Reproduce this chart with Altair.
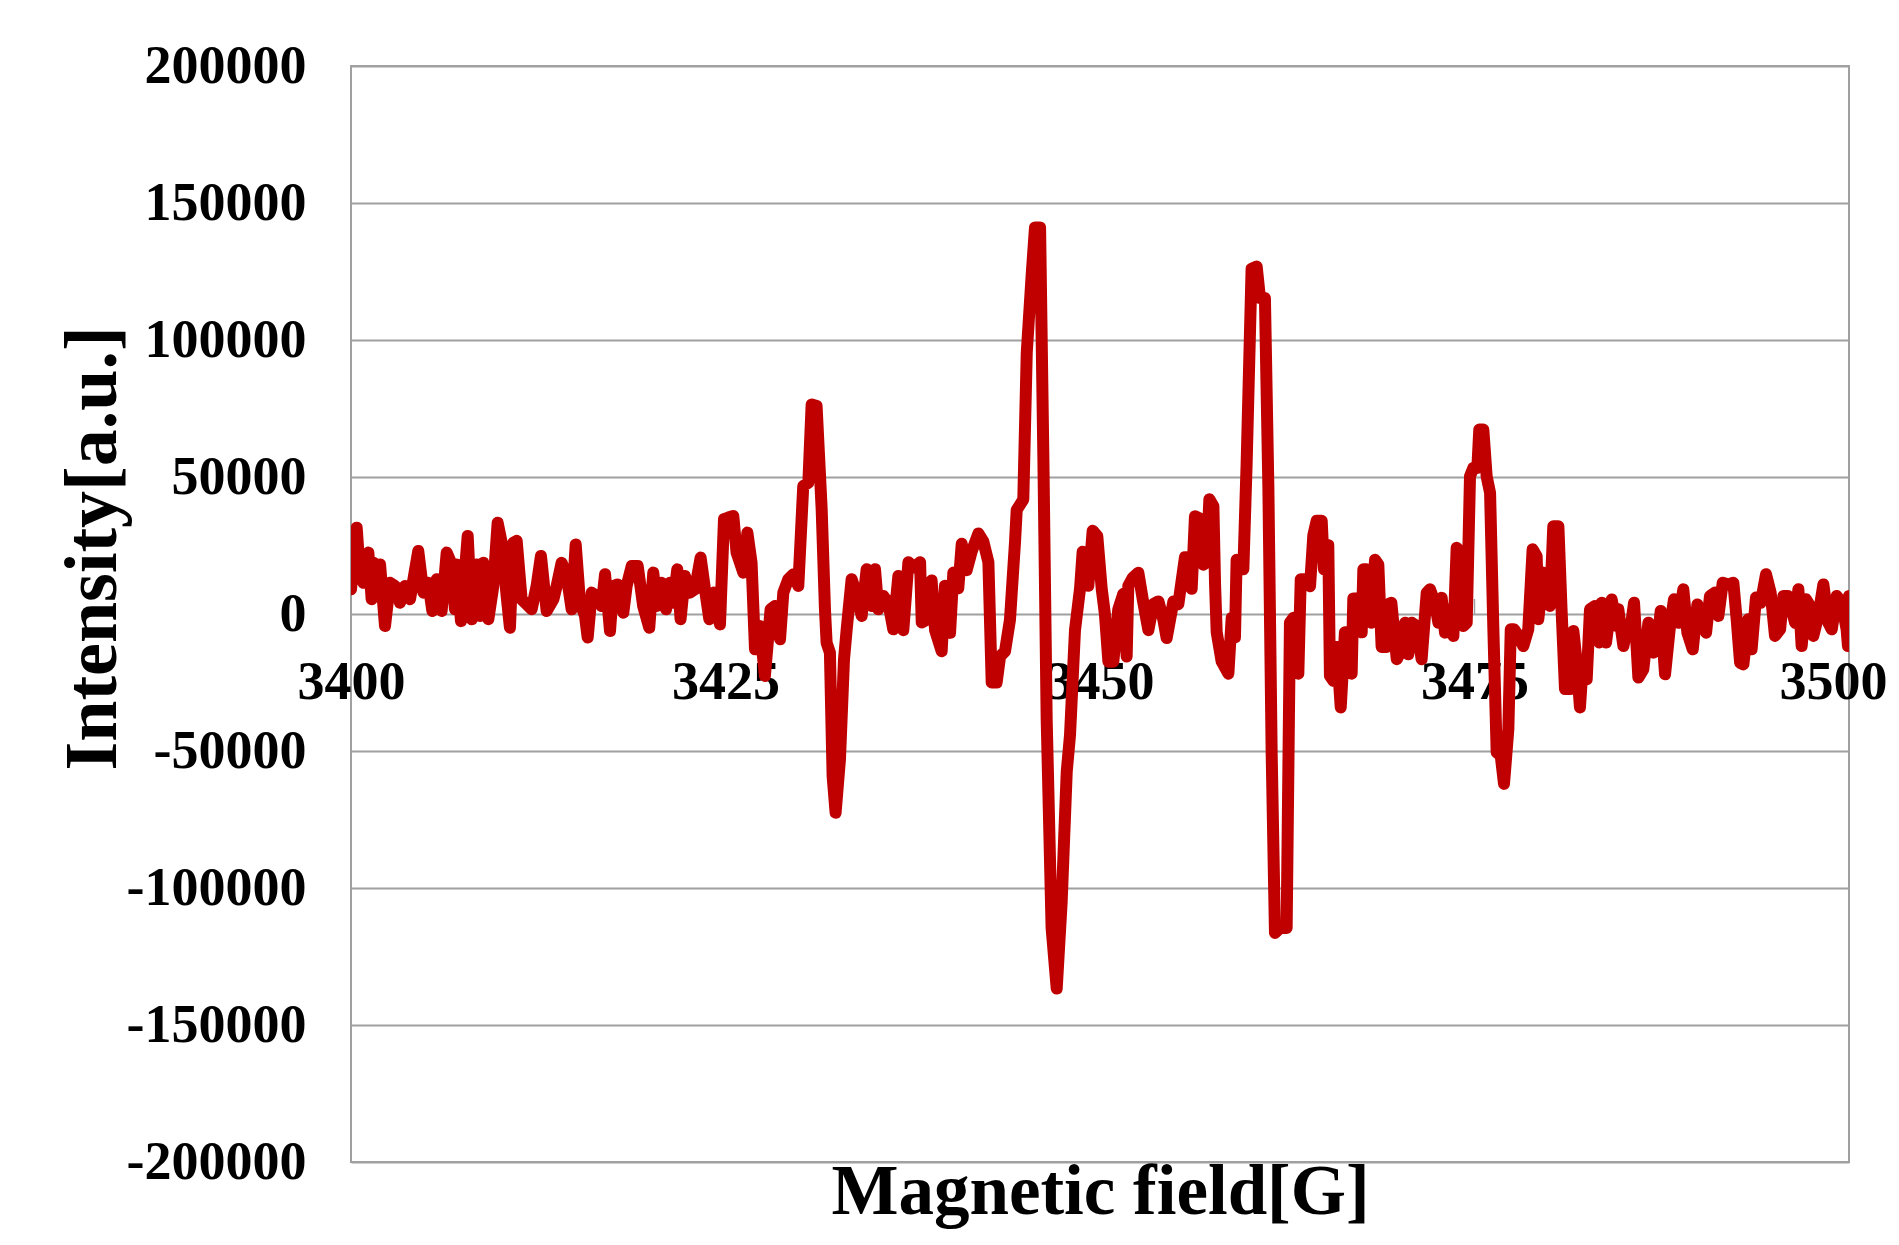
import altair as alt
import pandas as pd

# Magnetic field [G]
field = [
    3400.0, 3400.38, 3400.6, 3400.82, 3401.16, 3401.38, 3401.49, 3401.71, 3401.94, 3402.27,
    3402.6, 3402.94, 3403.27, 3403.6, 3403.94, 3404.49, 3404.83, 3405.16, 3405.43, 3405.72,
    3406.05, 3406.39, 3406.68, 3406.94, 3407.05, 3407.34, 3407.79, 3408.06, 3408.39, 3408.61,
    3408.83, 3409.17, 3409.5, 3409.79, 3410.06, 3410.39, 3410.61, 3410.84, 3411.06, 3411.39,
    3411.73, 3412.06, 3412.39, 3412.68, 3413.06, 3413.51, 3413.73, 3414.06, 3414.4, 3414.73,
    3415.0, 3415.29, 3415.62, 3415.8, 3416.07, 3416.4, 3416.73, 3416.96, 3417.29, 3417.51,
    3417.8, 3418.18, 3418.4, 3418.74, 3419.14, 3419.5, 3419.91,
    3420.18, 3420.4, 3420.74, 3421.03, 3421.29, 3421.52, 3421.78, 3422.0, 3422.29, 3422.63,
    3422.96, 3423.34, 3423.63, 3423.92, 3424.23, 3424.63, 3424.9, 3425.19, 3425.52, 3425.74,
    3426.19, 3426.46, 3426.74, 3426.97, 3427.3, 3427.63, 3428.01, 3428.3, 3428.64, 3428.86,
    3429.19, 3429.53, 3429.86, 3430.19, 3430.53, 3430.75, 3431.08, 3431.42, 3431.64, 3431.75,
    3431.97, 3432.15, 3432.35, 3432.64, 3432.91, 3433.09, 3433.42, 3433.71, 3434.09, 3434.42,
    3434.76, 3434.98, 3435.2, 3435.53, 3435.87, 3436.2, 3436.54,
    3436.87, 3437.21, 3437.54, 3437.99, 3438.1, 3438.43, 3438.76, 3438.99, 3439.43, 3439.65,
    3439.99, 3440.21, 3440.54, 3440.77, 3441.1, 3441.43, 3441.88, 3442.21, 3442.55, 3442.77,
    3443.1, 3443.33, 3443.66, 3443.99, 3444.33, 3444.44, 3444.88, 3445.11, 3445.44, 3445.66,
    3446.0, 3446.22, 3446.44, 3446.77, 3447.11, 3447.44, 3447.78, 3448.0, 3448.33, 3448.67,
    3448.84, 3449.22, 3449.51, 3449.82, 3450.11, 3450.33, 3450.56, 3450.89, 3451.22, 3451.56,
    3451.78, 3451.89, 3452.18, 3452.56, 3452.85, 3453.23, 3453.56, 3453.9, 3454.23, 3454.45,
    3454.9, 3455.23,
    3455.67, 3455.9, 3456.12, 3456.34, 3456.68, 3456.9, 3457.12, 3457.3, 3457.57, 3457.68,
    3457.79, 3458.12, 3458.57, 3458.79, 3459.01, 3459.12, 3459.57, 3459.79, 3460.12, 3460.46,
    3460.68, 3461.01, 3461.24, 3461.46, 3461.68, 3462.02, 3462.46, 3462.68, 3462.91, 3463.24,
    3463.4, 3463.68, 3464.02, 3464.24, 3464.46, 3464.8, 3464.95, 3465.24, 3465.35, 3465.58,
    3465.8, 3466.07, 3466.35, 3466.58, 3466.8, 3466.91, 3467.13, 3467.47, 3467.58, 3467.8,
    3468.13, 3468.36, 3468.58, 3468.8, 3469.14, 3469.36, 3469.45, 3469.81,
    3470.03, 3470.36, 3470.58, 3470.81, 3471.14, 3471.47, 3471.81, 3472.03, 3472.36, 3472.59,
    3472.81, 3473.03, 3473.25, 3473.59, 3473.81, 3474.08, 3474.26, 3474.48, 3474.7, 3474.92,
    3475.19, 3475.32, 3475.59, 3475.81, 3476.04, 3476.26, 3476.48, 3476.75, 3476.97, 3477.26,
    3477.42, 3477.64, 3477.93, 3478.26, 3478.59, 3478.88, 3479.15, 3479.26, 3479.6, 3479.82,
    3480.04, 3480.26, 3480.6, 3480.82, 3481.04, 3481.38, 3481.6, 3481.82, 3482.04, 3482.22,
    3482.49, 3482.71, 3483.04, 3483.33, 3483.49, 3483.78, 3484.16, 3484.49,
    3484.6, 3484.94, 3485.16, 3485.38, 3485.65, 3485.94, 3486.27, 3486.61, 3486.94, 3487.16,
    3487.43, 3487.72, 3488.05, 3488.32, 3488.61, 3488.94, 3489.21, 3489.57, 3489.88, 3490.17,
    3490.46, 3490.72, 3491.06, 3491.28, 3491.57, 3491.95, 3492.28, 3492.5, 3492.73, 3492.95,
    3493.28, 3493.5, 3493.79, 3494.11, 3494.46, 3494.77, 3495.06, 3495.4, 3495.62, 3495.91,
    3496.17, 3496.4, 3496.62, 3496.84, 3497.13, 3497.4, 3497.62, 3497.95, 3498.29, 3498.62,
    3498.85, 3499.18, 3499.51, 3499.84, 3499.93, 3500.0,
]

# Intensity [a.u.]
intensity = [
    9000, 31500, 13900, 11400, 22400, 5400, 18700, 6600, 18100, -4400,
    11400, 10200, 4100, 10200, 5400, 23000, 7800, 11400, 1100, 12700,
    1100, 22400, 18700, 1700, 18100, -2600, 28500, -1900, 18100, -700,
    18700, -1900, 10200, 33300, 26000, 6600, -5000, 26000, 26700, 5400,
    3500, 1700, 10200, 21200, 1100, 5400, 10200, 18700, 13900, 1700,
    25400, 4100, -700, -8600, 7800, 6600, 2900, 14500, -6200, 10200,
    10800, 500, 10200, 17500, 17500, 3000, -5000,
    15100, 2900, 11400, 1700, 11400, 4100, 16300, -1900, 13900, 7800,
    9000, 20600, 9000, -1900, 7800, -3800, 34600, 35200, 35800, 22400,
    15100, 29700, 18700, -12900, -4400, -22600, 1700, 2900, -9200, 7800,
    12700, 14500, 10200, 46700, 47900, 76500, 75900, 38200, 1700, -10500,
    -14100, -59100, -72500, -53100, -16600, -5600, 12700, 7800, -700, 16300,
    2900, 16300, 1700, 6600, 4100, -5600, 13900,
    -5900, 18900, 17000, 18900, -3100, -2100, 12200, -5900, -13600, 10300,
    -6900, 15100, 9400, 25600, 16000, 22700, 29400, 26500, 18900, -25000,
    -25000, -15500, -13600, -2100, 26500, 38000, 41800, 95300, 123900, 141100,
    141100, 57100, -38400, -114700, -136700, -105200, -57500, -44100, -5900, 9400,
    22700, 10300, 30400, 28400, 9400, -200, -17400, -17400, 1700, 7400,
    -15500, 10300, 13200, 15100, 5500, -5900, 3600, 4600, -2100, -8800,
    4600, 3600,
    20700, 20700, 9200, 35700, 34800, 18000, 18900, 41900, 39300, 11000,
    -6700, -17300, -21800, -1400, -8500, 19800, 16300, 55200, 126000, 126800,
    115300, 115300, 46300, -50900, -116400, -114600, -114600, -3200, -1400, -21800,
    12700, 12700, 10100, 28700, 34000, 34000, 16300, 25100, -22600, -24400,
    -12000, -34100, -6700, -6700, -21800, 5700, 5700, -6700, 16300, 16300,
    -3200, 19800, 18000, -12000, -12000, 3900, 4100, -16500,
    -14100, -3200, -14700, -3200, -4400, -16500, 7800, 9000, 4100, -3200,
    5900, -6800, 1700, -8000, 24200, 22300, -4400, -3200, 50300, 53300,
    53300, 67300, 67300, 50300, 44200, -5600, -50500, -51700, -62000, -42000,
    -5600, -5600, -8000, -11700, -5600, 23600, 21100, -1900, 15100, 4100,
    2900, 32000, 32000, 500, -27400, -27400, -6200, -17700, -34100, -18900,
    -23800, 1700, 2900, -10400, 4100, -10400, 5300, -4400,
    1700, -11700, -5600, -6800, 4100, -23200, -20200, -3200, -14100, -12900,
    1100, -22000, -4400, 5400, -3200, 9000, -6800, -12900, 3500, -700,
    -6800, 6600, 7800, -700, 11400, 10800, 11400, -1900, -17800, -18400,
    -1900, -12900, 6000, 4100, 14500, 7800, -8000, -5600, 6600, 6600,
    1700, -3200, 9000, -11700, 5400, 2900, -8000, -700, 10800, -3200,
    -5600, 6600, 4100, -5600, -11700, 6600,
]

x_ticks = [3400, 3425, 3450, 3475, 3500]
y_ticks = [-200000, -150000, -100000, -50000, 0, 50000, 100000, 150000, 200000]

df = pd.DataFrame({"field": field, "intensity": intensity})
tick_df = pd.DataFrame({"field": x_ticks, "intensity": [0] * len(x_ticks), "top": [5500] * len(x_ticks)})

FONT = "Liberation Serif"
GRID = "#a0a0a0"

x_scale = alt.Scale(domain=[3400, 3500], nice=False, zero=False)
y_scale = alt.Scale(domain=[-200000, 200000], nice=False, zero=False)

x_axis = alt.Axis(
    values=x_ticks,
    labelExpr="'' + datum.value",
    offset=-548,
    domain=False,
    ticks=False,
    tickSize=0,
    grid=False,
    labelPadding=41,
    labelFlush=False,
    labelOverlap=False,
    labelBound=False,
    labelOffset={"condition": {"test": "datum.value == 3500", "value": -16}, "value": 0},
    labelFont=FONT,
    labelFontSize=54,
    labelFontWeight="bold",
    labelColor="black",
    title="Magnetic field[G]",
    titleFont=FONT,
    titleFontSize=71,
    titleFontWeight="bold",
    titleColor="black",
    titleBaseline="alphabetic",
    titleY=599,
)

y_axis = alt.Axis(
    values=y_ticks,
    labelExpr="'' + datum.value",
    domain=False,
    ticks=False,
    tickSize=0,
    grid=True,
    gridColor=GRID,
    gridWidth=2,
    labelPadding=45,
    labelFlush=False,
    labelOverlap=False,
    labelFont=FONT,
    labelFontSize=54,
    labelFontWeight="bold",
    labelColor="black",
    title="Intensity[a.u.]",
    titleFont=FONT,
    titleFontSize=74,
    titleFontWeight="bold",
    titleColor="black",
    titleAngle=270,
    titleAlign="center",
    titleBaseline="alphabetic",
    titleX=-236,
    titleY=482,
)

tick_rules = alt.Chart(tick_df).mark_rule(color=GRID, strokeWidth=1.5).encode(
    x=alt.X("field:Q", scale=x_scale, axis=x_axis),
    y=alt.Y("intensity:Q", scale=y_scale, axis=y_axis),
    y2="top:Q",
)

line = alt.Chart(df).mark_line(
    color="#C00000", strokeWidth=12, strokeJoin="round", strokeCap="round", clip=True
).encode(
    x=alt.X("field:Q", scale=x_scale, axis=x_axis),
    y=alt.Y("intensity:Q", scale=y_scale, axis=y_axis),
)

chart = (
    alt.layer(tick_rules, line)
    .properties(
        width=1498,
        height=1096,
        autosize=alt.AutoSizeParams(type="none"),
        padding={"left": 343, "top": 58, "right": 42, "bottom": 68},
        background="white",
    )
    .configure_view(stroke=GRID, strokeWidth=2)
)

chart.save("out.html", embed_options={"renderer": "svg", "actions": False})
